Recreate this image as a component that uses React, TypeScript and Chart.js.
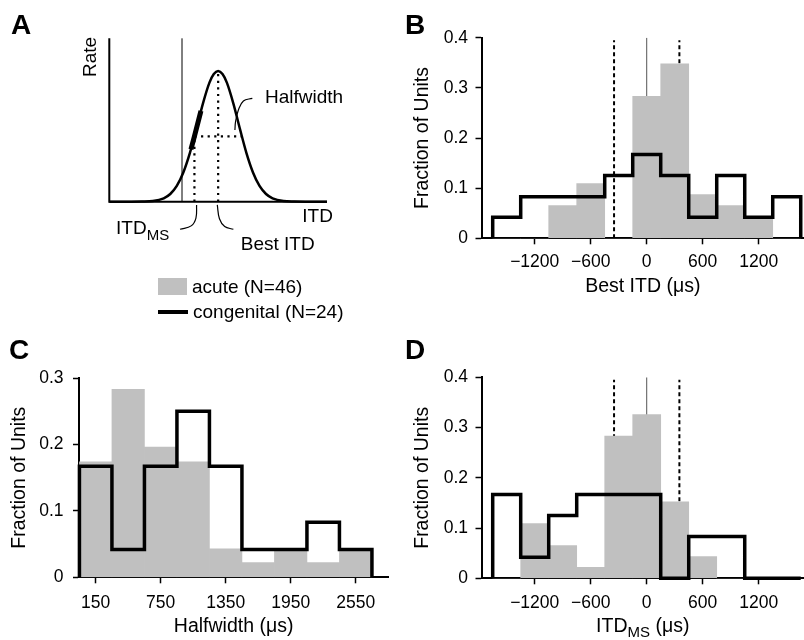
import React, { useEffect, useRef } from "react";
import { Chart, registerables } from "chart.js";

Chart.register(...registerables);

const FONT = "'Liberation Sans', Arial, Helvetica, sans-serif";
const GRAY = "#c0c0c0";

// ---------------- data ----------------
const ITD_BIN_CENTERS = [-1500, -1200, -900, -600, -300, 0, 300, 600, 900, 1200, 1500];
const HW_BIN_CENTERS = [150, 450, 750, 1050, 1350, 1650, 1950, 2250, 2550];
const BIN_WIDTH = 300;

// Panel B : Best ITD
const BEST_ITD_ACUTE = [0, 0, 0.065, 0.109, 0, 0.283, 0.348, 0.087, 0.065, 0.043, 0];
const BEST_ITD_CONGENITAL = [0.042, 0.083, 0.083, 0.083, 0.125, 0.167, 0.125, 0.042, 0.125, 0.042, 0.083];
const BEST_ITD_DASHED = [-350, 350];
const BEST_ITD_ZERO = [0];

// Panel C : Halfwidth
const HALFWIDTH_ACUTE = [0.174, 0.283, 0.196, 0.174, 0.043, 0.022, 0.043, 0.022, 0.043];
const HALFWIDTH_CONGENITAL = [0.167, 0.042, 0.167, 0.25, 0.167, 0.042, 0.042, 0.083, 0.042];

// Panel D : ITD_MS
const ITDMS_ACUTE = [0, 0.109, 0.065, 0.022, 0.283, 0.326, 0.152, 0.043, 0, 0, 0];
const ITDMS_CONGENITAL = [0.167, 0.042, 0.125, 0.167, 0.167, 0.167, 0, 0.083, 0.083, 0, 0];
const ITDMS_DASHED = [-350, 350];
const ITDMS_ZERO = [0];
const DASHED_TOP = 0.395;

// tick labels
const ITD_TICKS = [-1200, -600, 0, 600, 1200];
const HW_TICKS = [150, 750, 1350, 1950, 2550];
const FRACTION_TICKS_04 = [0, 0.1, 0.2, 0.3, 0.4];
const FRACTION_TICKS_03 = [0, 0.1, 0.2, 0.3];

// Panel A : schematic tuning curve (arbitrary ITD units, rate relative to peak)
const SCHEM_X = [0, 10, 15, 20, 25, 28, 31, 34, 37, 40, 43, 46, 48, 50, 52, 54, 57, 60, 63, 66, 69, 72, 75, 80, 85, 90, 100];
const SCHEM_RATE = [0, 0, 0.001, 0.005, 0.026, 0.059, 0.121, 0.224, 0.372, 0.557, 0.751, 0.911, 0.977, 1, 0.977, 0.911, 0.751, 0.557, 0.372, 0.224, 0.121, 0.059, 0.026, 0.005, 0.001, 0, 0];
const SCHEM_SLOPE_X = [37.5, 39.1, 40.6, 42.1];
const SCHEM_SLOPE_RATE = [0.401, 0.5, 0.597, 0.694];
const SCHEM_BEST = 50;
const SCHEM_PEAK = 1;
const SCHEM_ITDMS = 39.1;
const SCHEM_HALF_RIGHT = 60.9;
const SCHEM_HALF_RATE = 0.5;
const SCHEM_REF = 33.4;
const SCHEM_X_END = 100;
const SCHEM_Y_END = 1.25;
const LEADER_HW_X = [65.7, 61.6, 59.3, 58.0, 57.7];
const LEADER_HW_Y = [0.791, 0.771, 0.702, 0.613, 0.549];
const LEADER_MS_X = [40.1, 39.8, 37.6, 32.5];
const LEADER_MS_Y = [-0.025, -0.125, -0.185, -0.211];
const LEADER_BEST_X = [49.6, 50.6, 53.0, 57.0];
const LEADER_BEST_Y = [-0.025, -0.13, -0.19, -0.211];

// ---------------- helpers ----------------
const pts = (xs: number[], ys: number[]) => xs.map((x, i) => ({ x, y: ys[i] }));

function stepOutline(centers: number[], vals: number[], width: number) {
  const h = width / 2;
  const out: { x: number; y: number }[] = [{ x: centers[0] - h, y: 0 }];
  vals.forEach((v, i) => {
    out.push({ x: centers[i] - h, y: v });
    out.push({ x: centers[i] + h, y: v });
  });
  out.push({ x: centers[centers.length - 1] + h, y: 0 });
  return out;
}

const fmtX = (v: number) => (v < 0 ? "\u2212" + Math.abs(v) : String(v));
const fmtY = (v: number) => (v === 0 ? "0" : Number(v).toFixed(1));

const subTitlePlugin = {
  id: "subTitle",
  afterDraw(chart: any) {
    const { ctx, chartArea } = chart;
    const cx = (chartArea.left + chartArea.right) / 2;
    const y = chartArea.bottom + 48.7;
    const big = `19.5px ${FONT}`;
    const small = `15px ${FONT}`;
    ctx.save();
    ctx.fillStyle = "#000";
    ctx.textBaseline = "middle";
    ctx.textAlign = "left";
    ctx.font = big;
    const w1 = ctx.measureText("ITD").width;
    const w3 = ctx.measureText(" (\u03bcs)").width;
    ctx.font = small;
    const w2 = ctx.measureText("MS").width;
    let x = cx - (w1 + w2 + w3) / 2;
    ctx.font = big;
    ctx.fillText("ITD", x, y);
    x += w1;
    ctx.font = small;
    ctx.fillText("MS", x, y + 5.5);
    x += w2;
    ctx.font = big;
    ctx.fillText(" (\u03bcs)", x, y);
    ctx.restore();
  },
};

type Layout = {
  padTop: number;
  padRight: number;
  yAxisWidth: number;
  xAxisHeight: number;
  xTickPad: number;
  yTickPad: number;
  xTitlePad: number;
  yTitlePad: number;
};

type HistSpec = {
  centers: number[];
  acute: number[];
  congenital: number[];
  dashed: number[];
  zero: number[];
  xTicks: number[];
  yTicks: number[];
  xMin: number;
  xMax: number;
  yMax: number;
  xTitle: string | null;
  L: Layout;
};

function histConfig(s: HistSpec): any {
  const L = s.L;
  const gridOpts = {
    display: true,
    drawOnChartArea: false,
    drawTicks: true,
    tickLength: 6,
    tickWidth: 1.5,
    tickColor: "#000",
    offset: false,
  };
  const border = { display: true, color: "#000", width: 2 };
  const refSets = [
    ...s.dashed.map((x) => ({
      type: "line",
      data: [{ x, y: 0 }, { x, y: DASHED_TOP }],
      borderColor: "#000",
      borderWidth: 2,
      borderDash: [4, 3],
      pointRadius: 0,
      fill: false,
      order: 3,
    })),
    ...s.zero.map((x) => ({
      type: "line",
      data: [{ x, y: 0 }, { x, y: s.yMax }],
      borderColor: "#555",
      borderWidth: 1,
      pointRadius: 0,
      fill: false,
      order: 3,
    })),
  ];
  return {
    type: "bar",
    data: {
      datasets: [
        {
          type: "line",
          label: "congenital",
          data: stepOutline(s.centers, s.congenital, BIN_WIDTH),
          borderColor: "#000",
          borderWidth: 3.5,
          borderJoinStyle: "miter",
          pointRadius: 0,
          fill: false,
          clip: false,
          order: 0,
        },
        {
          type: "bar",
          label: "acute",
          data: pts(s.centers, s.acute),
          backgroundColor: GRAY,
          borderWidth: 0,
          barPercentage: 1,
          categoryPercentage: 1,
          order: 1,
        },
        ...refSets,
      ],
    },
    options: {
      responsive: false,
      animation: false,
      events: [],
      layout: { padding: { top: L.padTop, right: L.padRight, left: 0, bottom: 0 } },
      plugins: { legend: { display: false }, tooltip: { enabled: false }, title: { display: false } },
      scales: {
        x: {
          type: "linear",
          offset: false,
          min: s.xMin,
          max: s.xMax,
          afterBuildTicks: (sc: any) => {
            sc.ticks = s.xTicks.map((v) => ({ value: v }));
          },
          afterFit: (sc: any) => {
            sc.height = L.xAxisHeight;
          },
          grid: gridOpts,
          border,
          ticks: {
            font: { size: 17.5, family: FONT },
            color: "#000",
            padding: L.xTickPad,
            autoSkip: false,
            maxRotation: 0,
            callback: (v: number) => fmtX(v),
          },
          title: {
            display: !!s.xTitle,
            text: s.xTitle || "",
            color: "#000",
            font: { size: 19.5, family: FONT },
            padding: { top: 0, bottom: L.xTitlePad },
          },
        },
        y: {
          type: "linear",
          min: 0,
          max: s.yMax,
          afterBuildTicks: (sc: any) => {
            sc.ticks = s.yTicks.map((v) => ({ value: v }));
          },
          afterFit: (sc: any) => {
            sc.width = L.yAxisWidth;
          },
          grid: gridOpts,
          border,
          ticks: {
            font: { size: 17.5, family: FONT },
            color: "#000",
            padding: L.yTickPad,
            autoSkip: false,
            callback: (v: number) => fmtY(v),
          },
          title: {
            display: true,
            text: "Fraction of Units",
            color: "#000",
            font: { size: 19.5, family: FONT },
            padding: { top: L.yTitlePad, bottom: 0 },
          },
        },
      },
    },
    plugins: s.xTitle ? [] : [subTitlePlugin],
  };
}

// Panel A config
const A_W = 400;
const A_H = 330;
const A_X0 = 109.3; // pixel of ITD origin
const A_XS = 2.177; // px per unit
const A_Y0 = 201.7; // pixel of rate 0
const A_YS = 130.7; // px per unit rate

const A_TEXTS = [
  { text: "Rate", u: -8.6, v: 1.107, align: "center", rot: true },
  { text: "ITD", u: 102.7, v: -0.115, align: "right", rot: false },
  { text: "Halfwidth", u: 71.5, v: 0.793, align: "left", rot: false },
  { text: "Best ITD", u: 60.4, v: -0.327, align: "left", rot: false },
];
const A_MS_LABEL = { u: 3.1, v: -0.209 };

const schemTextPlugin = {
  id: "schemText",
  afterDatasetsDraw(chart: any) {
    const { ctx } = chart;
    const sx = chart.scales.x;
    const sy = chart.scales.y;
    ctx.save();
    ctx.fillStyle = "#000";
    ctx.textBaseline = "middle";
    ctx.font = `19px ${FONT}`;
    A_TEXTS.forEach((t) => {
      const x = sx.getPixelForValue(t.u);
      const y = sy.getPixelForValue(t.v);
      ctx.save();
      ctx.translate(x, y);
      if (t.rot) ctx.rotate(-Math.PI / 2);
      ctx.textAlign = t.align;
      ctx.fillText(t.text, 0, 0);
      ctx.restore();
    });
    const x = sx.getPixelForValue(A_MS_LABEL.u);
    const y = sy.getPixelForValue(A_MS_LABEL.v);
    ctx.textAlign = "left";
    ctx.font = `19px ${FONT}`;
    ctx.fillText("ITD", x, y);
    const w = ctx.measureText("ITD").width;
    ctx.font = `15px ${FONT}`;
    ctx.fillText("MS", x + w, y + 7);
    ctx.restore();
  },
};

function schemConfig(): any {
  const line = (data: any[], extra: any) => ({
    type: "line",
    data,
    borderColor: "#000",
    pointRadius: 0,
    fill: false,
    tension: 0,
    ...extra,
  });
  const dotted = { borderWidth: 2.2, borderDash: [2.2, 4.4] };
  return {
    type: "line",
    data: {
      datasets: [
        line(
          [
            { x: 0, y: SCHEM_Y_END },
            { x: 0, y: 0 },
            { x: SCHEM_X_END, y: 0 },
          ],
          { borderWidth: 2, borderJoinStyle: "miter" }
        ),
        line(
          [
            { x: SCHEM_REF, y: 0 },
            { x: SCHEM_REF, y: SCHEM_Y_END },
          ],
          { borderWidth: 1 }
        ),
        line(pts(SCHEM_X, SCHEM_RATE), { borderWidth: 2.5, cubicInterpolationMode: "monotone" }),
        line(pts(SCHEM_SLOPE_X, SCHEM_SLOPE_RATE), { borderWidth: 5 }),
        line(
          [
            { x: SCHEM_BEST, y: 0 },
            { x: SCHEM_BEST, y: SCHEM_PEAK },
          ],
          dotted
        ),
        line(
          [
            { x: SCHEM_ITDMS, y: 0 },
            { x: SCHEM_ITDMS, y: SCHEM_HALF_RATE },
          ],
          dotted
        ),
        line(
          [
            { x: SCHEM_ITDMS, y: SCHEM_HALF_RATE },
            { x: SCHEM_HALF_RIGHT, y: SCHEM_HALF_RATE },
          ],
          dotted
        ),
        line(pts(LEADER_HW_X, LEADER_HW_Y), { borderWidth: 1.2, tension: 0.4 }),
        line(pts(LEADER_MS_X, LEADER_MS_Y), { borderWidth: 1.2, tension: 0.4 }),
        line(pts(LEADER_BEST_X, LEADER_BEST_Y), { borderWidth: 1.2, tension: 0.4 }),
      ],
    },
    options: {
      responsive: false,
      animation: false,
      events: [],
      layout: { padding: 0 },
      plugins: { legend: { display: false }, tooltip: { enabled: false } },
      scales: {
        x: {
          type: "linear",
          display: false,
          min: (0 - A_X0) / A_XS,
          max: (A_W - A_X0) / A_XS,
        },
        y: {
          type: "linear",
          display: false,
          min: (A_Y0 - A_H) / A_YS,
          max: A_Y0 / A_YS,
        },
      },
    },
    plugins: [schemTextPlugin],
  };
}

const ITD_RANGE = { min: -1770, max: 1685 };
const HW_RANGE = { min: -4, max: 2851 };

const specB: HistSpec = {
  centers: ITD_BIN_CENTERS,
  acute: BEST_ITD_ACUTE,
  congenital: BEST_ITD_CONGENITAL,
  dashed: BEST_ITD_DASHED,
  zero: BEST_ITD_ZERO,
  xTicks: ITD_TICKS,
  yTicks: FRACTION_TICKS_04,
  xMin: ITD_RANGE.min,
  xMax: ITD_RANGE.max,
  yMax: 0.4,
  xTitle: "Best ITD (\u03bcs)",
  L: { padTop: 37.7, padRight: 0, yAxisWidth: 81.5, xAxisHeight: 81.7, xTickPad: 7.5, yTickPad: 7.5, xTitlePad: 21.3, yTitlePad: 10.5 },
};

const specC: HistSpec = {
  centers: HW_BIN_CENTERS,
  acute: HALFWIDTH_ACUTE,
  congenital: HALFWIDTH_CONGENITAL,
  dashed: [],
  zero: [],
  xTicks: HW_TICKS,
  yTicks: FRACTION_TICKS_03,
  xMin: HW_RANGE.min,
  xMax: HW_RANGE.max,
  yMax: 0.3,
  xTitle: "Halfwidth (\u03bcs)",
  L: { padTop: 58, padRight: 11.7, yAxisWidth: 79, xAxisHeight: 62.7, xTickPad: 9.5, yTickPad: 9.5, xTitlePad: 1.3, yTitlePad: 7.5 },
};

const specD: HistSpec = {
  centers: ITD_BIN_CENTERS,
  acute: ITDMS_ACUTE,
  congenital: ITDMS_CONGENITAL,
  dashed: ITDMS_DASHED,
  zero: ITDMS_ZERO,
  xTicks: ITD_TICKS,
  yTicks: FRACTION_TICKS_04,
  xMin: ITD_RANGE.min,
  xMax: ITD_RANGE.max,
  yMax: 0.4,
  xTitle: null,
  L: { padTop: 57.3, padRight: 0, yAxisWidth: 81.5, xAxisHeight: 61.7, xTickPad: 8.2, yTickPad: 7.5, xTitlePad: 0, yTitlePad: 10.5 },
};

function ChartCanvas({ config, left, top, width, height }: any) {
  const ref = useRef<HTMLCanvasElement | null>(null);
  useEffect(() => {
    if (!ref.current) return;
    const chart = new Chart(ref.current, config());
    return () => chart.destroy();
  }, []);
  return (
    <canvas
      ref={ref}
      width={width}
      height={height}
      style={{ position: "absolute", left, top, width, height }}
    />
  );
}

const letterStyle = (left: number, top: number): React.CSSProperties => ({
  position: "absolute",
  left,
  top,
  fontFamily: FONT,
  fontWeight: "bold",
  fontSize: 28,
  lineHeight: "28px",
  color: "#000",
});

const legendText = (left: number, top: number): React.CSSProperties => ({
  position: "absolute",
  left,
  top,
  fontFamily: FONT,
  fontSize: 19,
  lineHeight: "20px",
  color: "#000",
  whiteSpace: "nowrap",
});

export default function App() {
  Chart.defaults.font.family = FONT;
  Chart.defaults.color = "#000";
  return (
    <div
      style={{
        position: "fixed",
        left: 0,
        top: 0,
        width: 804,
        height: 640,
        background: "#fff",
        overflow: "hidden",
      }}
    >
      <ChartCanvas config={schemConfig} left={0} top={0} width={A_W} height={A_H} />
      <ChartCanvas config={() => histConfig(specB)} left={400} top={0} width={404} height={320} />
      <ChartCanvas config={() => histConfig(specC)} left={0} top={320} width={400} height={320} />
      <ChartCanvas config={() => histConfig(specD)} left={400} top={320} width={404} height={320} />

      <div style={{ position: "absolute", left: 158, top: 278, width: 29, height: 17, background: GRAY }} />
      <div style={legendText(192, 276.5)}>acute (N=46)</div>
      <div style={{ position: "absolute", left: 158, top: 310, width: 30, height: 3.5, background: "#000" }} />
      <div style={legendText(193, 301.7)}>congenital (N=24)</div>

      <div style={letterStyle(11, 10.5)}>A</div>
      <div style={letterStyle(405, 10.5)}>B</div>
      <div style={letterStyle(9, 335.5)}>C</div>
      <div style={letterStyle(405, 335.5)}>D</div>
    </div>
  );
}
